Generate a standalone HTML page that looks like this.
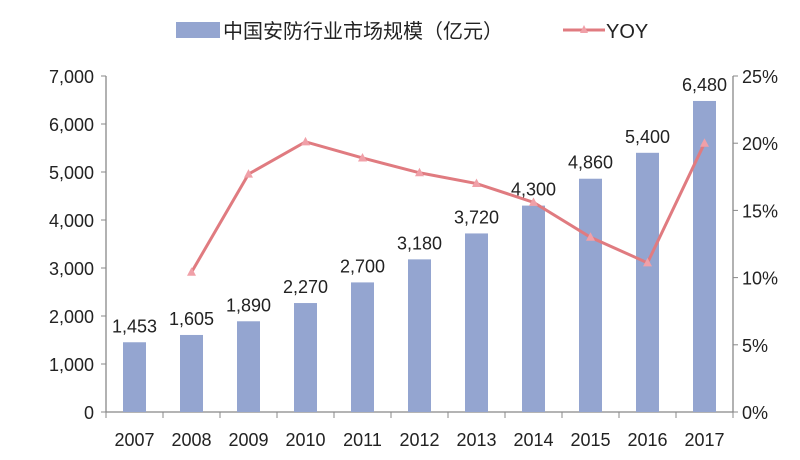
<!DOCTYPE html>
<html><head><meta charset="utf-8"><style>
body{margin:0;background:#fff;}
svg text{font-family:"Liberation Sans","Noto Sans CJK SC",sans-serif;fill:#222;}
</style></head><body>
<svg width="800" height="455" xmlns="http://www.w3.org/2000/svg">
<g id="legend">
 <rect x="176" y="22" width="44" height="16" fill="#94a5d0"/>
 <text x="223" y="38" font-size="20">中国安防行业市场规模（亿元）</text>
 <line x1="563" y1="30" x2="605" y2="30" stroke="#e07b80" stroke-width="3"/>
 <polygon points="584,25 588,33 580,33" fill="#f0a0a8"/>
 <text x="606" y="38" font-size="20">YOY</text>
</g>
<g id="plot"></g>
</svg>
<script>
const categories=["2007","2008","2009","2010","2011","2012","2013","2014","2015","2016","2017"];
const marketSize=[1453,1605,1890,2270,2700,3180,3720,4300,4860,5400,6480];
const yoy=[null,10.4,17.7,20.1,18.9,17.8,17.0,15.6,13.0,11.1,20.0];
const leftTicks=[0,1000,2000,3000,4000,5000,6000,7000];
const rightTicks=[0,5,10,15,20,25];
const NS="http://www.w3.org/2000/svg";
const g=document.getElementById('plot');
const L=106,R=733,T=76,B=412;
const step=(R-L)/categories.length;
const xC=i=>L+step*(i+0.5);
const yL=v=>B-(v/7000)*(B-T);
const yR=v=>B-(v/25)*(B-T);
function mk(tag,attrs,text){const e=document.createElementNS(NS,tag);for(const k in attrs)e.setAttribute(k,attrs[k]);if(text!=null)e.textContent=text;g.appendChild(e);return e;}
// axes
let e=mk('line',{x1:L,y1:T,x2:L,y2:B,stroke:'#888','stroke-width':1.3});


e=mk('line',{x1:R,y1:T,x2:R,y2:B,stroke:'#888','stroke-width':1.3});


e=mk('line',{x1:L,y1:B,x2:R,y2:B,stroke:'#888','stroke-width':1.3});


leftTicks.forEach(v=>{
 const y=yL(v);
 e=mk('line',{x1:L-5,y1:y,x2:L,y2:y,stroke:'#888'});
 
 
 e=mk('text',{x:L-12,y:y+7,'font-size':18,'text-anchor':'end'},v.toLocaleString('en-US'));
 
 
});
rightTicks.forEach(v=>{
 const y=yR(v);
 e=mk('line',{x1:R,y1:y,x2:R+5,y2:y,stroke:'#888'});
 
 
 e=mk('text',{x:R+9,y:y+7,'font-size':18},v+'%');
 
 
});
for(let i=0;i<=categories.length;i++){
 e=mk('line',{x1:L+step*i,y1:B,x2:L+step*i,y2:B+6,stroke:'#888'});
 
 
}
categories.forEach((c,i)=>{
 e=mk('text',{x:xC(i),y:B+34,'font-size':18,'text-anchor':'middle'},c);
 
 
});
marketSize.forEach((v,i)=>{
 const y=yL(v);
 e=mk('rect',{x:xC(i)-11.5,y:y,width:23,height:B-y,fill:'#94a5d0'});
 
 
 e=mk('text',{x:xC(i),y:y-10,'font-size':18,'text-anchor':'middle'},v.toLocaleString('en-US'));
 
 
});
const pts=[];
yoy.forEach((v,i)=>{if(v!=null)pts.push([xC(i),yR(v)]);});
e=mk('polyline',{points:pts.map(p=>p.join(',')).join(' '),fill:'none',stroke:'#e07b80','stroke-width':3});


pts.forEach(p=>{
 e=mk('polygon',{points:`${p[0]},${p[1]-5} ${p[0]+4.5},${p[1]+3.5} ${p[0]-4.5},${p[1]+3.5}`,fill:'#f0a0a8'});
 
 
});
</script>
</body></html>
